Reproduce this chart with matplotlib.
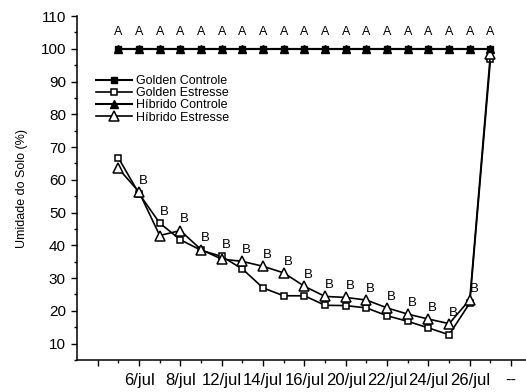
import matplotlib
matplotlib.use('Agg')
import matplotlib.pyplot as plt
import numpy as np

plt.rcParams['font.family'] = ['Liberation Sans', 'DejaVu Sans']

# sampling points (19 readings) and tick labels on the date axis
pts = np.arange(1, 20)
tick_pos = np.arange(0, 21, 2)
tick_lab = ['', '6/jul', '8/jul', '12/jul', '14/jul', '16/jul', '20/jul',
            '22/jul', '24/jul', '26/jul', '--']

# soil moisture (%)
golden_ctrl = [100]*19
hibrido_ctrl = [100]*19
golden_stress = [66.7, 55.8, 46.8, 41.7, 38.5, 36.6, 32.8, 27.0, 24.6, 24.6,
                 21.7, 21.6, 20.9, 18.5, 16.8, 14.8, 12.7, 22.4, 96.8]
hibrido_stress = [63.5, 56.3, 43.0, 44.5, 38.7, 35.8, 35.1, 33.6, 31.6, 27.5,
                  24.4, 24.1, 23.3, 20.9, 19.0, 17.5, 16.1, 23.4, 98.5]

# letters (statistics) above each point
ctrl_letters = ['A']*19
stress_letters = [''] + ['B']*17 + ['']

fig = plt.figure(figsize=(5.26, 3.92), dpi=100)
ax = fig.add_axes([77/526, 1 - 360/392, (526 - 77)/526, (360 - 16)/392])

ax.plot(pts, hibrido_ctrl, color='k', lw=1.5, marker='^', ms=6,
        mfc='k', mec='k', label='Híbrido Controle', zorder=3)
ax.plot(pts, golden_ctrl, color='k', lw=1.5, marker='s', ms=4.5,
        mfc='k', mec='k', label='Golden Controle', zorder=4)
ax.plot(pts, golden_stress, color='k', lw=1.2, marker='s', ms=4,
        mfc='white', mec='k', mew=1.1, label='Golden Estresse', zorder=3)
ax.plot(pts, hibrido_stress, color='k', lw=1.2, marker='^', ms=6.5,
        mfc='white', mec='k', mew=1.1, label='Híbrido Estresse', zorder=3)

for x, t in zip(pts, ctrl_letters):
    ax.annotate(t, (x, 100), xytext=(0, 12), textcoords='offset points',
                ha='center', va='center', fontsize=9)

for x, g, h, t in zip(pts, golden_stress, hibrido_stress, stress_letters):
    ax.annotate(t, (x, max(g, h)), xytext=(3, 8), textcoords='offset points',
                ha='center', va='center', fontsize=9.5)

ax.set_xlim(-1, 20.72)
ax.set_ylim(5, 110)
ax.set_xticks(tick_pos)
ax.set_xticklabels(tick_lab, fontsize=12)
ax.set_xticks(np.arange(1, 20, 2), minor=True)
ax.set_yticks(np.arange(10, 111, 10))
ax.set_yticks(np.arange(5, 111, 5), minor=True)
ax.tick_params(which='major', direction='out', length=4.5, width=1)
ax.tick_params(axis='y', labelsize=11)
ax.tick_params(which='minor', direction='out', length=2.5, width=1)
ax.tick_params(axis='x', pad=5)

for s in ['top', 'right']:
    ax.spines[s].set_visible(False)
for s in ['left', 'bottom']:
    ax.spines[s].set_linewidth(1.1)

ax.set_ylabel('Umidade do Solo (%)', fontsize=9, labelpad=9)

h, l = ax.get_legend_handles_labels()
order = [1, 2, 0, 3]
ax.legend([h[i] for i in order], [l[i] for i in order], loc='upper left',
          bbox_to_anchor=(96/526, 1 - 75/392), bbox_transform=fig.transFigure,
          frameon=False, fontsize=9, handlelength=2.9, handletextpad=0.3,
          labelspacing=0.02, borderpad=0, borderaxespad=0)

plt.savefig('out.png', dpi=100)
